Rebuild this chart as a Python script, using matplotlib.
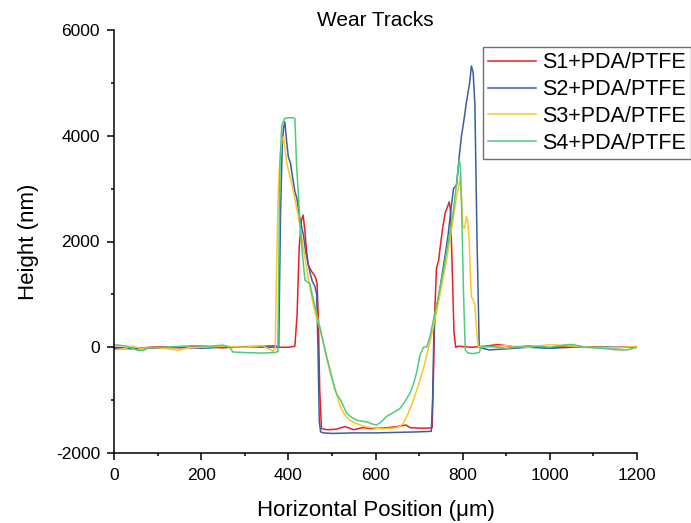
import matplotlib
matplotlib.use('Agg')
import matplotlib.pyplot as plt

plt.rcParams['font.family'] = ['Liberation Sans', 'DejaVu Sans']
plt.rcParams['axes.unicode_minus'] = False

# S1+PDA/PTFE (red)
s1_x = [0, 50, 100, 150, 200, 250, 300, 350, 400, 415, 420, 425, 430, 434, 438, 442, 446, 452, 458,
        462, 466, 469, 472, 476, 490, 510, 530, 550, 570, 590, 610, 630, 650, 670, 675, 680, 700,
        720, 730, 733, 736, 740, 745, 750, 755, 760, 765, 769, 772, 776, 780, 784, 790, 820, 850,
        880, 900, 920, 950, 1000, 1050, 1100, 1150, 1200]
s1_y = [0, -20, 10, -10, 20, -10, 10, 0, 0, 20, 600, 1900, 2400, 2500, 2200, 1800, 1550, 1450, 1380,
        1330, 1200, 500, -800, -1540, -1560, -1550, -1500, -1560, -1520, -1540, -1530, -1520, -1500,
        -1470, -1500, -1520, -1530, -1530, -1520, -500, 700, 1500, 1650, 2000, 2300, 2550, 2650, 2750,
        2600, 1500, 300, 0, 20, 0, 20, 50, 30, 0, 10, -10, 20, 0, -10, 10]

# S2+PDA/PTFE (blue)
s2_x = [0, 50, 100, 150, 200, 250, 300, 350, 370, 378, 382, 386, 389, 392, 396, 400, 405, 410, 415,
        420, 425, 430, 435, 440, 445, 450, 455, 461, 465, 468, 471, 474, 480, 500, 550, 600, 650,
        700, 728, 731, 734, 737, 745, 752, 760, 767, 773, 779, 786, 792, 797, 803, 808, 812, 816,
        820, 824, 828, 833, 838, 860, 900, 950, 1000, 1050, 1100, 1150, 1200]
s2_y = [-20, -30, -10, 0, -20, 0, 10, 20, 30, 0, 2500, 3800, 4150, 4260, 3900, 3600, 3480, 3200, 2950,
        2800, 2500, 2300, 2100, 1800, 1600, 1400, 1250, 1150, 1000, 0, -1400, -1600, -1620, -1630,
        -1620, -1620, -1610, -1600, -1590, -1000, 300, 580, 950, 1330, 1750, 2150, 2600, 3000, 3070,
        3600, 3980, 4300, 4600, 4800, 5000, 5320, 5200, 4600, 2000, 0, -50, -30, 0, -20, 0, 10, 0, 10]

# S3+PDA/PTFE (yellow)
s3_x = [0, 20, 44, 60, 100, 140, 147, 170, 200, 250, 300, 340, 360, 365, 370, 373, 377, 382, 386, 389,
        393, 397, 400, 405, 411, 420, 427, 438, 449, 460, 473, 485, 496, 508, 519, 530, 541, 553, 564,
        580, 602, 620, 641, 655, 664, 675, 687, 699, 711, 722, 733, 748, 763, 775, 786, 791, 794, 797,
        800, 804, 809, 812, 815, 818, 820, 824, 828, 832, 836, 840, 860, 900, 950, 1000, 1050, 1100,
        1150, 1200]
s3_y = [-50, -30, 20, -20, 0, -50, -60, -10, 0, 20, 0, 30, -50, -80, -20, 1500, 3000, 3700, 3950, 3980,
        3700, 3450, 3350, 3200, 2970, 2600, 2280, 1700, 1150, 700, 330, -100, -490, -800, -1120, -1280,
        -1380, -1430, -1470, -1510, -1530, -1540, -1530, -1500, -1440, -1250, -1000, -700, -370, 0, 390,
        1000, 1650, 2250, 2850, 3050, 3230, 2900, 2280, 2250, 2470, 2350, 2030, 1300, 960, 900, 800,
        300, 0, 20, 0, 30, 0, 50, 20, 0, -10, 20]

# S4+PDA/PTFE (green)
s4_x = [0, 30, 55, 67, 80, 120, 180, 220, 250, 265, 273, 300, 340, 370, 376, 378, 381, 385, 392, 400,
        408, 415, 419, 423, 427, 432, 438, 444, 449, 456, 465, 476, 488, 498, 507, 512, 520, 534, 546,
        557, 570, 580, 592, 602, 612, 625, 640, 656, 668, 679, 687, 694, 702, 710, 718, 725, 733, 745,
        756, 768, 779, 786, 792, 795, 798, 802, 806, 812, 825, 838, 842, 860, 900, 950, 1000, 1040,
        1053, 1080, 1120, 1154, 1177, 1200]
s4_y = [50, 20, -60, -60, -10, 0, 30, 20, 40, 0, -90, -100, -110, -100, -80, 1500, 3500, 4200, 4330,
        4340, 4340, 4330, 3420, 2900, 2280, 1800, 1270, 1230, 1210, 950, 640, 250, -180, -500, -810,
        -900, -1000, -1250, -1330, -1380, -1400, -1410, -1450, -1470, -1420, -1310, -1240, -1160, -1020,
        -870, -700, -490, -150, 0, 10, 200, 520, 1000, 1460, 2050, 2600, 3100, 3540, 3400, 2500, 1000,
        -50, -110, -120, -100, 0, 20, -20, 30, 0, 50, 50, 0, -20, -50, -50, 0]

labels = ['S1+PDA/PTFE', 'S2+PDA/PTFE', 'S3+PDA/PTFE', 'S4+PDA/PTFE']
colors = ['#EE1C25', '#3D5E9E', '#FFC425', '#4FCB7E']

fig = plt.figure(figsize=(6.91, 5.23), dpi=100)
ax = fig.add_axes([114/691, 1 - 453/523, (637 - 114)/691, (453 - 30)/523])

series = [(s1_x, s1_y), (s2_x, s2_y), (s3_x, s3_y), (s4_x, s4_y)]
for (xs, ys), lab, c in zip(series, labels, colors):
    ax.plot(xs, ys, color=c, lw=1.1, label=lab)

ax.set_xlim(0, 1200)
ax.set_ylim(-2000, 6000)
ax.set_xticks(range(0, 1201, 200))
ax.set_xticks(range(100, 1200, 200), minor=True)
ax.set_yticks(range(-2000, 6001, 2000))
ax.set_yticks(range(-1000, 6000, 2000), minor=True)

for side in ['top', 'right']:
    ax.spines[side].set_visible(False)
for side in ['left', 'bottom']:
    ax.spines[side].set_linewidth(1.1)

ax.tick_params(which='major', direction='out', length=5, width=1.1, labelsize=12.5)
ax.tick_params(which='minor', direction='out', length=2.5, width=1.1)
ax.tick_params(axis='x', which='major', pad=6)
ax.tick_params(axis='y', which='major', pad=5)

ax.set_xlabel('Horizontal Position (\u03bcm)', fontsize=16, labelpad=12)
ax.set_ylabel('Height (nm)', fontsize=16, labelpad=12)
ax.set_title('Wear Tracks', fontsize=15, pad=-2)

fig.legend(loc='upper left', bbox_to_anchor=(483/691, 1 - 47/523), fontsize=15.5,
           frameon=True, fancybox=False, edgecolor='#707070', framealpha=1,
           borderpad=0.25, labelspacing=0.27, handlelength=2.2, handletextpad=0.3,
           borderaxespad=0)

fig.savefig('out.png', dpi=100)
